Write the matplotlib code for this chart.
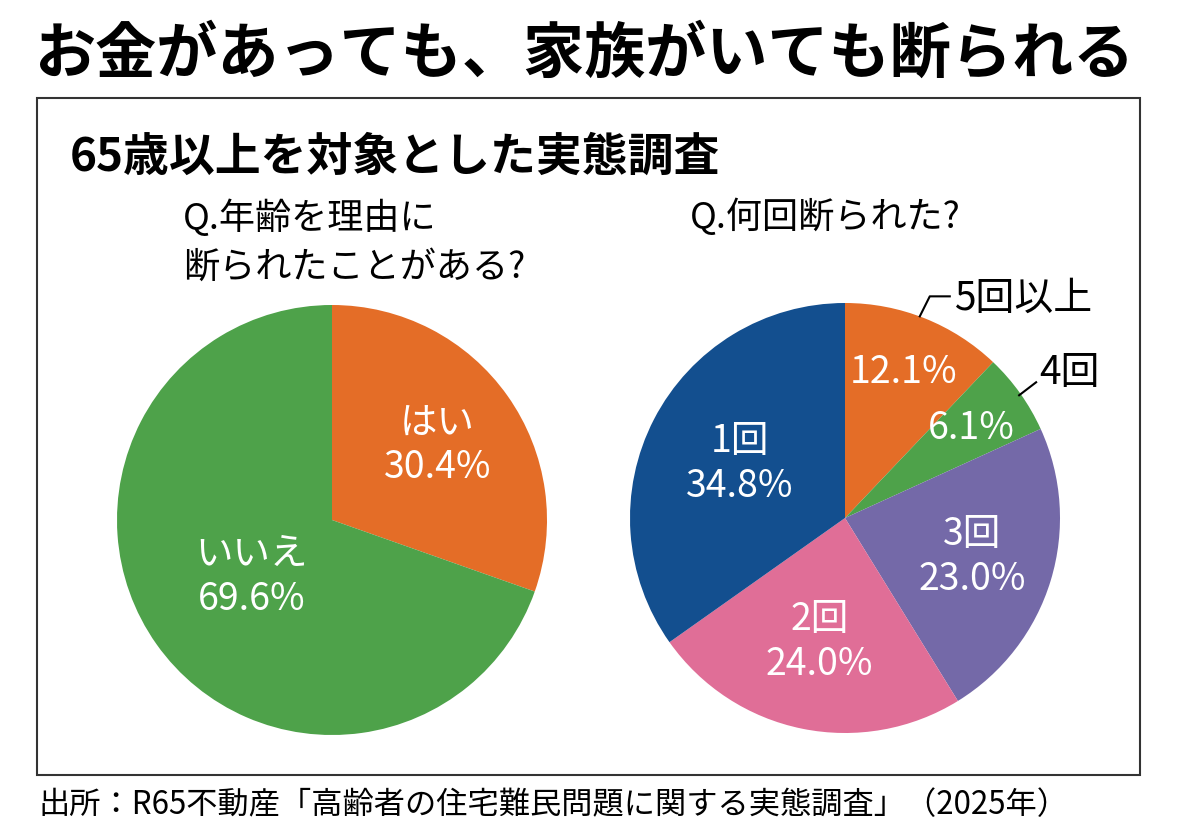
import numpy as np
import matplotlib
matplotlib.use('Agg')
import matplotlib.pyplot as plt
from matplotlib.patches import Rectangle

plt.rcParams['font.family'] = ['Noto Sans CJK JP', 'DejaVu Sans']

# データ
title = 'お金があっても、家族がいても断られる'
subtitle = '65歳以上を対象とした実態調査'
source = '出所：R65不動産「高齢者の住宅難民問題に関する実態調査」（2025年）'

q1_title = 'Q.年齢を理由に\n断られたことがある?'
q1_labels = ['はい', 'いいえ']
q1_values = [30.4, 69.6]

q2_title = 'Q.何回断られた?'
q2_labels = ['5回以上', '4回', '3回', '2回', '1回']
q2_values = [12.1, 6.1, 23.0, 24.0, 34.8]

orange = '#E46D27'
green = '#4EA24A'
purple = '#7469A8'
pink = '#E06E97'
blue = '#134F8F'
q1_colors = [orange, green]
q2_colors = [orange, green, purple, pink, blue]

W, H = 1180, 839
R = 215

fig = plt.figure(figsize=(W / 100, H / 100), dpi=100)
ax = fig.add_axes([0, 0, 1, 1])


def draw_pie(values, colors, center):
    # y軸を反転するので counterclock=True で見た目は時計回り
    wedges, _ = ax.pie(values, colors=colors, radius=R, center=center,
                       startangle=270, counterclock=True, frame=True,
                       wedgeprops=dict(linewidth=0))
    return wedges


def mid_point(wedge, center, frac):
    t = np.deg2rad((wedge.theta1 + wedge.theta2) / 2)
    return center[0] + frac * R * np.cos(t), center[1] + frac * R * np.sin(t)


# 左の円グラフ
c1 = (332, 520)
w1 = draw_pie(q1_values, q1_colors, c1)
for w, lab, v, f in zip(w1, q1_labels, q1_values, [0.6, 0.46]):
    x, y = mid_point(w, c1, f)
    ax.text(x, y, f'{lab}\n{v:.1f}%', color='white', fontsize=27,
            ha='center', va='center', linespacing=1.2)

# 右の円グラフ
c2 = (845, 518)
w2 = draw_pie(q2_values, q2_colors, c2)
fracs = [0.73, 0.72, 0.62, 0.59, 0.55]
for i, (w, lab, v, f) in enumerate(zip(w2, q2_labels, q2_values, fracs)):
    x, y = mid_point(w, c2, f)
    if i < 2:
        ax.text(x, y, f'{v:.1f}%', color='white', fontsize=27,
                ha='center', va='center')
    else:
        ax.text(x, y, f'{lab}\n{v:.1f}%', color='white', fontsize=27,
                ha='center', va='center', linespacing=1.2)

# 外側のラベル（引き出し線）
ex, ey = mid_point(w2[0], c2, 1.0)
ax.plot([ex - 5, ex + 5, ex + 25], [ey - 2, ey - 22, ey - 22], color='black', lw=1.5)
ax.text(ex + 29, ey - 20, q2_labels[0], fontsize=28, ha='left', va='center')
ex, ey = mid_point(w2[1], c2, 1.0)
ax.plot([ex - 1, ex + 16], [ey + 2, ey - 11], color='black', lw=1.5)
ax.text(ex + 19, ey - 20, q2_labels[1], fontsize=28, ha='left', va='center')

# 枠
ax.add_patch(Rectangle((37, 98), 1103, 677, fill=False, lw=1.5, edgecolor='#333333'))

ax.text(584, 55, title, fontsize=44, fontweight='bold', ha='center', va='center')
ax.text(70, 158, subtitle, fontsize=33, fontweight='bold', ha='left', va='center')
ax.text(183, 243, q1_title, fontsize=26, ha='left', va='center', linespacing=1.45)
ax.text(690, 217, q2_title, fontsize=26, ha='left', va='center')
ax.text(38, 805, source, fontsize=22.5, ha='left', va='center')

ax.set_xlim(0, W)
ax.set_ylim(H, 0)
ax.set_aspect('equal')
ax.axis('off')

fig.savefig('out.png', dpi=100)
